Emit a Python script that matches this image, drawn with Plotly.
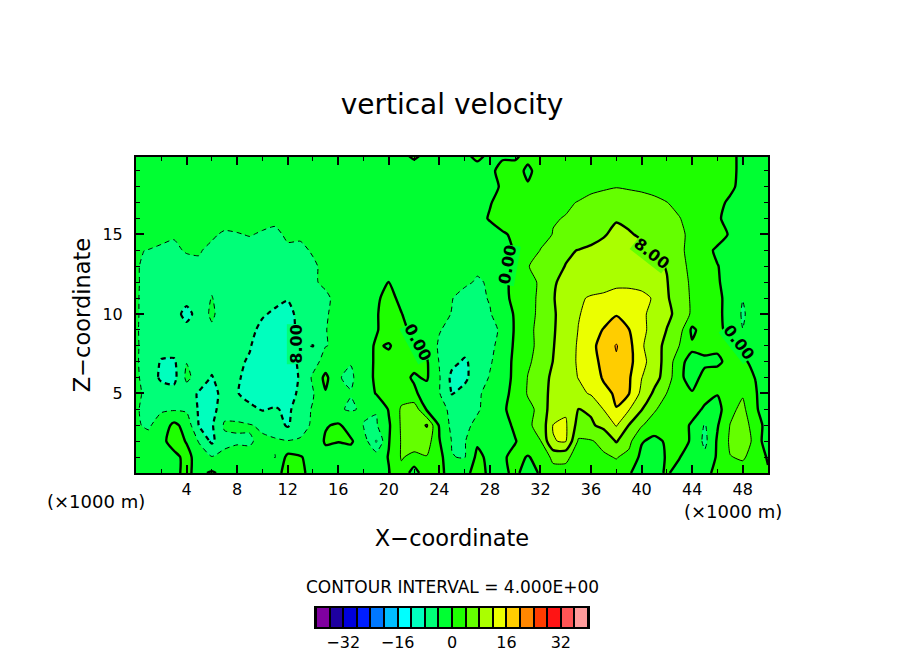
import plotly.graph_objects as go

W, H = 904, 654
FONT = "DejaVu Sans"
PAGE_MARGIN = 8  # the browser page keeps its default body margin

x_km = list(range(51))
z_km = list(range(21))

# vertical velocity, one list per height, x = 0..50 km
w_z00 = [-1,-1,-1,-.5,.5,-.8,.5,-1,-1.5,-1.5, -1.5,-2,2,1,-1.5,-1.5,-1.5,-1.5,-1.5,-2, -.2,3,-2,3,.6,-1,-1.5,2,-1,-1, 1,-2,.5,2.5,2.5,1,1,2,2.5,.2, -1,-.8,.3,-1,-1,-1,1,3,3,2, .5]
w_z01 = [-1.5,-2,-2,-1,1,-1.5,-3.8,-3,-3,-3.5, -2.5,-4.1,1,.3,-1.5,-1.5,-1.5,-1.5,-1.5,-2, .2,4.3,3,3.8,1.5,-3.9,-4.2,1,-1,-.5, 1,-.2,1,5,5,2,2.5,3.5,4.2,3, -1,-2.5,.5,.1,-1.5,-3,.5,3.9,4.3,3, -.5]
w_z02 = [-2,-3,-1,1.5,-.2,-4.4,-8.8,-5,-4.3,-4.2, -3.5,-3.5,-3.8,-3.7,-3,.5,.1,.4,-2,-8.1, -.2,4.3,6,6,.2,-4.2,-4.3,-.6,-1.5,-1.5, -.2,2,3.9,11.9,12.2,3.5,3.7,5,8.3,5, .3,-1,.5,1.5,-.5,-5,.5,4.5,6,3, -3]
w_z03 = [-3.7,-4.4,-2.5,1,-1.5,-8.3,-8.5,-3.5,-3.7,-3.8, -4.5,-6,-8.5,-5,-3.6,-.3,.5,-1.5,-4.1,-4.4, -.5,4.5,6,8.2,-.5,-5,-5,-3,-1.5,-1.5, .7,3.5,5,12.1,12.5,6.5,7.5,9,12.3,7.9, 4.3,2,1.8,1.5,-.5,-4.3,-.3,4.1,5.5,2.5, -2]
w_z04 = [-3.9,-4.3,-4.4,-4.4,-4.6,-8.5,-9.5,-5.5,-5,-7, -8.3,-7.5,-9,-5.5,-3.7,-3.5,-3.7,-4.3,-3.6,-3.8, .3,4.5,6.5,-.4,-2.5,-5,-5.5,-4.5,-2.3,-.5, 1.2,3,5,10.5,11.5,7.9,8.5,12.1,15.9,12.2, 8.2,4.5,2,1.5,1.3,-.5,-1.5,3,5,.5, -2]
w_z05 = [-3.6,-4.5,-5.2,-6.5,-6,-8.5,-9,-7,-7.8,-9.5, -10.5,-11,-10,-7,-4.3,-.3,-3,-3.9,-2.5,.2, 1.5,2.5,.6,-1.5,-3.8,-8.2,-6.5,-4.5,-3,-1, 1,4.3,7,8.7,9.7,11,12.4,15,16.5,16.1, 11,7.3,3.9,.5,.2,1.2,.2,2,3.6,.5, -3.5]
w_z06 = [-3.7,-4.8,-9,-9.2,-3.2,-5.5,-8.3,-5.5,-7.6,-9, -11,-11.5,-10.5,-7.5,-3.4,1,-3.9,-4.3,-3,1, 1.5,1,-.4,.4,-3.7,-9,-9,-5.5,-3.8,-2.3, 1.2,4.1,6.5,8.7,10.5,12.1,14,16.4,19.2,16.5, 12.1,9.4,6.3,.5,-1,.8,1.2,2,1.5,-.1, -2]
w_z07 = [-3.85,-4.6,-8.5,-8.6,-4.1,-5,-6.5,-6.3,-7.5,-8.3, -10.5,-11,-10.5,-7,-5.5,-2.5,-3.9,-3.9,-1,.3, 1,1.5,1,.4,-4.2,-7,-8.5,-6.5,-4.3,-2.5, 1.1,3.6,5,8.1,11.6,12.1,15.3,16.5,19.5,17, 13.8,9.2,7.1,.6,-.8,-.5,-.5,.8,.6,-1, -2.5]
w_z08 = [-3.85,-4.5,-5.5,-6,-5,-5,-5.5,-6,-7,-7.8, -9.5,-10,-10,-7.5,-8.1,-4.1,-3.5,-3,-1.5,.4, -.3,1.5,.6,-1.5,-4.5,-5.5,-6.5,-5.8,-4.5,-3.2, .8,3,5,7.7,11.5,12.1,15,17.5,20.3,17.2, 12.6,9.2,7.2,3.9,.5,.8,.5,.3,-1.2,-2, -2]
w_z09 = [-3.85,-4.6,-5.2,-5.6,-6,-5.2,-4.5,-5.5,-6.5,-7.5, -8.5,-9.5,-9.5,-7,-5.5,-4.1,-3,-2.8,-1.5,-.3, 1.5,.8,-.8,-2.5,-3.8,-5,-5.5,-5.5,-4.8,-3.5, .5,3.3,4.8,7.7,9.5,12.1,14.5,16.2,17.5,16.1, 13,10.5,7.9,5.5,-.8,1.8,.6,-.7,-3.95,-2, -2]
w_z10 = [-3.85,-4.5,-5,-5.5,-10,-5.5,-3.5,-5.5,-6,-7, -7.8,-8.3,-9,-7,-5,-4.3,-3,-2.8,-2,-.3, 1.5,.1,-1.5,-2.5,-3.2,-4.1,-5,-4.6,-4.3,-1.5, .3,3.4,4.4,7.6,9.5,11.8,13,14.5,15.8,14.5, 12.6,11,8.7,7,3.3,2.2,.6,-1,-4.5,-2, -2]
w_z11 = [-3.85,-4.5,-5,-5.2,-6,-5.2,-3.9,-5.2,-5.8,-6.5, -7,-7.5,-7.8,-6,-5,-4.3,-3.5,-3,-2,-.5, 1,-.8,-2,-2.5,-3,-3.9,-5,-5,-3.7,-.9, .8,3.3,4.4,7.8,9.5,11.6,12.3,12.5,12.8,12.8, 12.8,11.7,8.5,5.5,3.6,2.2,.5,-.8,-3.9,-2, -2]
w_z12 = [-3.85,-4.4,-4.9,-5,-5,-4.8,-4.5,-5,-5.5,-6, -6.5,-6.8,-6.8,-5.5,-4.2,-3.7,-3,-2.5,-2.5,-1.5, .1,-1.5,-2,-2.5,-2.8,-3,-3.5,-4.3,-3.7,-.5, .5,3.3,4.3,7.6,9,10,10.5,11,11.5,11.5, 11,10,8.2,5.2,3.5,2,.3,-1.2,-2,-2, -2]
w_z13 = [-3.85,-4.4,-4.8,-4.7,-4.4,-4.2,-5,-5.2,-5.2,-5.5, -5.8,-6,-5.5,-5,-4.3,-3.5,-2.8,-2.5,-2.5,-2.5, -2.5,-2.5,-2.5,-2.5,-2.5,-2.5,-3,-3.5,-3,-1, .4,3.8,5.5,7,8.1,9,9.5,10,10.5,10, 9.5,8.8,7.8,4.6,3.5,1.5,.1,-1,-1.5,-1.5, -1.5]
w_z14 = [-3.9,-4.05,-4.3,-4.2,-3.9,-3.9,-4.3,-4.8,-4.6,-4.7, -4.8,-5,-4.3,-4.4,-3.8,-3,-2.5,-2.5,-2.5,-2.5, -2.2,-2.2,-2.2,-2.2,-2,-2,-2,-2,-1.5,-.8, .2,2,4.1,6,7.5,8.1,8.5,8.8,9.8,9.5, 8.6,7.5,6.5,4.6,3,.9,-.5,-1.5,-1.5,-1.5, -1.5]
w_z15 = [-3,-3.2,-3.5,-3.9,-3.2,-3.2,-3.8,-4.2,-4.1,-3.9, -4.2,-4.4,-3.7,-3.7,-3,-2.5,-2,-2,-2,-2, -2,-2,-2,-2,-2,-2,-2,-2,-1.5,-.4, .6,1.5,3,4.1,5,6,7,7.8,8.6,8.2, 7.7,6.5,5.5,4.4,3.5,2,1.2,-.3,-1.5,-1.5, -1.5]
w_z16 = [-2.6,-2.8,-3.2,-3.2,-2.8,-2.8,-3,-3.4,-3.3,-3.2, -3.4,-3.6,-3,-3,-2.6,-2.2,-2,-2,-2,-2, -2,-2,-2,-2,-2,-2,-2,-1.2,.3,1.5, 2.5,3,3.4,3.85,4.1,5,6,7,7.8,7.5, 7,6,5,4.1,3,2,.4,-1,-1.5,-1.5, -1.5]
w_z17 = [-2.5,-2.5,-2.5,-2.5,-2.5,-2.5,-2.5,-2.5,-2.5,-2.5, -2.5,-2.5,-2.5,-2.5,-2.5,-2.5,-2.5,-2.5,-2.5,-2.5, -2.5,-2.5,-2.5,-2.5,-2.5,-2.5,-2.5,-1.5,-.2,1.2, 2,2.5,2.8,3.2,3.7,4.1,4.6,5,5.5,5.3, 5,4.6,4.05,3.3,2.5,1.8,1.2,-.8,-1.5,-2, -2]
w_z18 = [-2,-2,-2,-2,-2,-2,-2,-2,-2,-2, -2,-2,-2,-2,-2,-2,-2,-2,-2,-2, -2,-2,-2,-2,-2,-2,-2,-2,-1.4,.6, 1.5,.5,2,2.5,3,3.2,3.5,3.7,3.9,3.7, 3.5,3.2,3,2.5,2,2,1.5,1,-1.5,-1.5, -1.5]
w_z19 = [-2,-2,-2,-2,-2,-2,-2,-2,-2,-2, -2,-2,-2,-2,-2,-2,-2,-2,-2,-2, -2,-2,-2.5,-2,-2,-2,-2,-2.2,-1.4,2, 2,-1,2,2,2.5,2.5,2.5,2.5,2.5,2.5, 2.5,2.5,2.5,2,2,2,2,1,-1,-2, -2]
w_z20 = [-1,-1,-1,-1,-1,-1,-1,-1,-1,-1, -1,-1,-1,-1,-1,-1,-1,-1,-1,-1, -1,-1,1,-1,-1,-1,-1,1.5,-1,-1, -1,1.5,2,2,2,2,2,2,2,2, 2,2,2,2,2,2,2,1,-1,-1, -1]
w_rows = [w_z00, w_z01, w_z02, w_z03, w_z04, w_z05, w_z06, w_z07, w_z08, w_z09, w_z10,
          w_z11, w_z12, w_z13, w_z14, w_z15, w_z16, w_z17, w_z18, w_z19, w_z20]
assert all(len(r) == 51 for r in w_rows)

band_colors = ["#8000a0", "#1e00a0", "#0000dc", "#001eff", "#0078ff", "#00beff", "#00ffff",
               "#00ffbe", "#00ff78", "#00ff32", "#1eff00", "#64ff00", "#aaff00", "#ebff00",
               "#ffcd00", "#ff8700", "#ff3c00", "#ff1414", "#ff5555", "#ff9b9b"]
band_centers = list(range(-38, 39, 4))
legend_ticks = [-32, -16, 0, 16, 32]
x_ticks = [4, 8, 12, 16, 20, 24, 28, 32, 36, 40, 44, 48]
z_ticks = [5, 10, 15]

# contour maps its colours over start-size/2 .. end+size/2
scale = [[0, band_colors[0]]]
for k, c in enumerate(band_colors):
    scale.append([(2 + 4 * k) / 84, c])
    scale.append([(6 + 4 * k) / 84, c])
scale.append([1, band_colors[-1]])


def px_x(p):
    return (p - PAGE_MARGIN) / W


def px_y(p):
    return 1 - (p - PAGE_MARGIN) / H


fig = go.Figure()
fig.add_trace(go.Contour(x=x_km, y=z_km, z=w_rows, colorscale=scale, showscale=False, hoverinfo="skip",
                         autocontour=False, contours=dict(start=-40, end=40, size=4, coloring="fill"),
                         line=dict(width=0)))


def add_lines(start, end, size, width, dash):
    fig.add_trace(go.Contour(x=x_km, y=z_km, z=w_rows, showscale=False, hoverinfo="skip", autocontour=False,
                             contours=dict(start=start, end=end, size=size, coloring="none"),
                             line=dict(color="black", width=width, dash=dash, smoothing=0.6)))


add_lines(4, 20, 8, 1, "solid")
add_lines(0, 16, 8, 2.4, "solid")
add_lines(-4, -3.5, 1, 1, "5px,4px")
add_lines(-8, -7.5, 1, 2.2, "5px,4px")

fig.add_trace(go.Heatmap(x=band_centers, y=[0], z=[band_centers], colorscale=scale, zmin=-42, zmax=42,
                         showscale=False, xgap=2, hoverinfo="skip", xaxis="x2", yaxis="y2"))

axis_font = dict(family=FONT, size=16, color="black")
fig.update_layout(
    width=W, height=H, autosize=False,
    margin=dict(l=0, r=0, t=0, b=0),
    paper_bgcolor="white", plot_bgcolor="black",
    showlegend=False,
    xaxis=dict(domain=[px_x(136), px_x(768)], range=[0, 50], tickvals=x_ticks, ticks="inside", ticklen=8,
               tickwidth=2, tickcolor="black", showline=True, linewidth=2, linecolor="black", mirror="ticks",
               showgrid=False, zeroline=False, tickfont=axis_font, ticklabelstandoff=1,
               minor=dict(dtick=2, tick0=0, ticks="inside", ticklen=4, tickwidth=1, tickcolor="black"),
               title=dict(text="X\u2212coordinate", font=dict(family=FONT, size=22.5, color="black"), standoff=32)),
    yaxis=dict(domain=[px_y(473), px_y(157)], range=[0, 19.87], tickvals=z_ticks, ticks="inside", ticklen=8,
               tickwidth=2, tickcolor="black", showline=True, linewidth=2, linecolor="black", mirror="ticks",
               showgrid=False, zeroline=False, tickfont=axis_font, ticklabelstandoff=8,
               minor=dict(dtick=1, tick0=0, ticks="inside", ticklen=4, tickwidth=1, tickcolor="black"),
               title=dict(text="Z\u2212coordinate", font=dict(family=FONT, size=22.5, color="black"), standoff=6)),
    xaxis2=dict(domain=[px_x(316), px_x(588)], range=[-40, 40], anchor="y2", tickvals=legend_ticks, ticks="",
                showline=True, linewidth=2, linecolor="black", mirror=True, showgrid=False, zeroline=False,
                tickfont=axis_font),
    yaxis2=dict(domain=[px_y(627), px_y(608)], range=[-0.5, 0.5], anchor="x2", showticklabels=False, ticks="",
                showline=True, linewidth=2, linecolor="black", mirror=True, showgrid=False, zeroline=False),
    title=dict(text="vertical velocity", font=dict(family=FONT, size=28, color="black"),
               x=px_x(452), xanchor="center", y=px_y(104), yanchor="middle"),
)

# page texts, placed in pixels of the picture
page_texts = [("CONTOUR INTERVAL = 4.000E+00", 452, 587, 17),
              ("(\u00d71000 m)", 96, 501, 18),
              ("(\u00d71000 m)", 733, 511, 18)]
for text, px, py, size in page_texts:
    fig.add_annotation(text=text, xref="paper", yref="paper", x=px_x(px), y=px_y(py), showarrow=False,
                       xanchor="center", yanchor="middle",
                       font=dict(family=FONT, size=size, color="black"))

# contour labels sitting on the lines: x km, z km, text, angle, background
contour_labels = [(29.4, 13.1, "0.00", -80, "#00ff32"),
                  (47.7, 8.2, "0.00", 52, "#00ff32"),
                  (22.3, 8.2, "0.00", 62, "#00ff32"),
                  (40.8, 13.8, "8.00", 38, "#64ff00"),
                  (12.7, 8.1, "8.00", -90, "#00ff78")]
for xk, zk, text, angle, bg in contour_labels:
    fig.add_annotation(text=text, x=xk, y=zk, xref="x", yref="y", textangle=angle, showarrow=False, bgcolor=bg,
                       borderpad=0, xanchor="center", yanchor="middle",
                       font=dict(family=FONT, size=16, color="black", weight="bold"))

fig.write_html("out.html")
